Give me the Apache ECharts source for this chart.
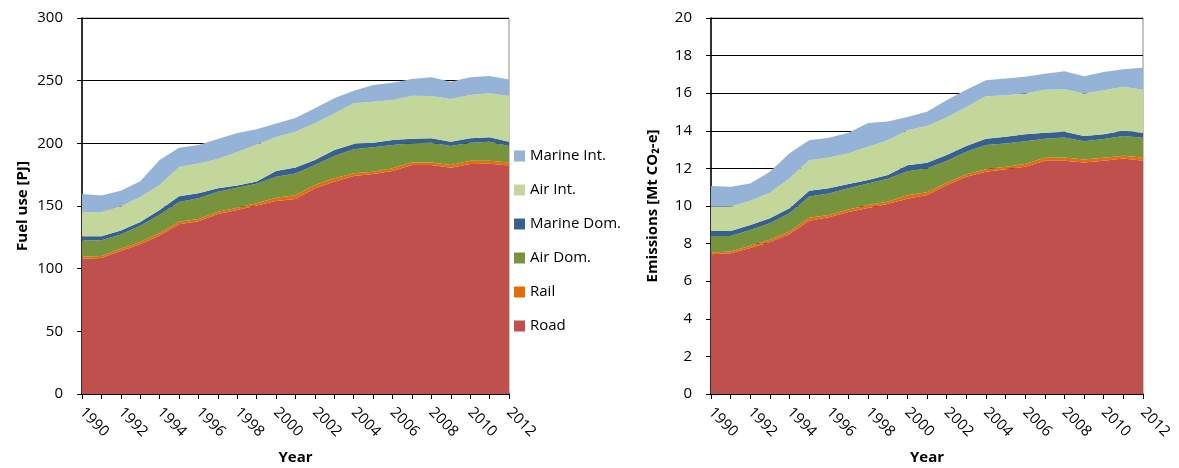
<!DOCTYPE html>
<html>
<head>
<meta charset="utf-8">
<script src="https://cdn.jsdelivr.net/npm/echarts@6/dist/echarts.min.js"></script>
<style>
html,body{margin:0;padding:0;background:#fff;overflow:hidden;}
#c{width:1179px;height:468px;}
</style>
</head>
<body>
<div id="c"></div>
<script>
// ---- Data ----
const years = ['1990','1991','1992','1993','1994','1995','1996','1997','1998','1999','2000','2001','2002','2003','2004','2005','2006','2007','2008','2009','2010','2011','2012'];
const seriesNames = ['Road','Rail','Air Dom.','Marine Dom.','Air Int.','Marine Int.'];
const legendOrder = ['Marine Int.','Air Int.','Marine Dom.','Air Dom.','Rail','Road'];

// Fuel use [PJ]
const roadPJ      = [108,108.5,114,119.5,126.5,135.5,137.8,143.6,146.8,150.3,154,155.6,164.1,169.4,174,175.5,177.9,182.7,182.7,180.6,183.5,183.8,182.4];
const railPJ      = [1.6,1.6,1.8,1.8,2.0,2.0,1.8,1.9,1.9,1.9,2.6,3.0,2.7,2.7,2.1,1.9,2.2,2.1,2.1,2.1,2.7,2.4,2.4];
const airDomPJ    = [12.8,12.5,11.5,13.0,14.5,15.6,16.5,15.9,15.9,15.5,16.8,17.3,15.9,17.8,19.1,19.4,18.6,15.2,15.7,15.2,14.3,15.1,13.1];
const marineDomPJ = [3.4,3.2,3.2,3.0,3.8,4.6,4.0,2.7,1.8,1.8,4.6,4.8,4.0,4.8,4.3,3.7,4.0,3.7,3.5,3.4,3.5,3.5,3.4];
const airIntPJ    = [19.2,19.2,19.2,19.9,20.0,23.4,23.9,23.4,26.6,29.3,27.1,28.6,29.3,29.2,32.4,32.7,31.9,34.3,33.8,34.1,34.6,35.1,36.5];
const marineIntPJ = [14.6,13.3,12.5,12.5,19.9,15.4,14.7,16.0,15.2,12.5,10.7,11.0,11.9,12.0,10.1,13.3,13.8,13.3,14.9,13.8,14.1,13.8,13.2];

// Emissions [Mt CO2-e]
const roadCO2      = [7.43,7.49,7.77,8.09,8.51,9.22,9.40,9.68,9.89,10.10,10.39,10.58,11.11,11.56,11.82,11.95,12.09,12.41,12.41,12.32,12.41,12.53,12.41];
const railCO2      = [0.09,0.09,0.11,0.11,0.13,0.16,0.12,0.14,0.16,0.13,0.18,0.15,0.13,0.12,0.13,0.14,0.14,0.16,0.17,0.16,0.16,0.14,0.17];
const airDomCO2    = [0.89,0.83,0.85,0.88,0.97,1.12,1.15,1.12,1.15,1.22,1.28,1.27,1.15,1.20,1.29,1.24,1.22,1.01,1.07,0.97,0.99,1.05,1.05];
const marineDomCO2 = [0.26,0.26,0.26,0.27,0.27,0.31,0.27,0.23,0.18,0.20,0.32,0.30,0.32,0.31,0.34,0.35,0.36,0.32,0.30,0.27,0.26,0.28,0.26];
const airIntCO2    = [1.29,1.29,1.29,1.36,1.59,1.63,1.64,1.63,1.77,1.85,1.86,1.95,2.00,2.08,2.26,2.21,2.17,2.29,2.26,2.26,2.34,2.34,2.30];
const marineIntCO2 = [1.10,1.07,0.92,1.11,1.33,1.06,1.05,1.10,1.27,1.00,0.70,0.76,0.92,0.92,0.85,0.89,0.89,0.85,0.96,0.92,0.97,0.93,1.17];

const colors = ['#C0504D','#E46C0A','#77933C','#376092','#C4D79B','#95B3D7'];

// ---- Chart ----
const FONT = 'Open Sans';
const fuelData = [roadPJ, railPJ, airDomPJ, marineDomPJ, airIntPJ, marineIntPJ];
const co2Data  = [roadCO2, railCO2, airDomCO2, marineDomCO2, airIntCO2, marineIntCO2];

function makeSeries(dataSets, idx, stack) {
  return dataSets.map((d, k) => ({
    name: seriesNames[k],
    type: 'line',
    stack: stack,
    xAxisIndex: idx,
    yAxisIndex: idx,
    data: d,
    symbol: 'none',
    lineStyle: { width: 0 },
    areaStyle: { color: colors[k], opacity: 1 },
    itemStyle: { color: colors[k] },
    emphasis: { disabled: true },
    animation: false
  }));
}

function xAxisCfg(idx) {
  return {
    type: 'category', gridIndex: idx, data: years, boundaryGap: false,
    name: 'Year', nameLocation: 'middle', nameGap: 56,
    nameTextStyle: { fontFamily: FONT, fontSize: 15, fontWeight: 'bold', color: '#000' },
    axisLine: { lineStyle: { color: '#000', width: 1.5 } },
    axisTick: { show: true, interval: 0, length: 5, lineStyle: { color: '#000' } },
    axisLabel: { interval: 1, rotate: -45, margin: 16, fontFamily: FONT, fontSize: 15, color: '#000' },
    splitLine: { show: false }
  };
}

function yAxisCfg(idx, max, interval, name, gap) {
  return {
    type: 'value', gridIndex: idx, min: 0, max: max, interval: interval,
    name: name, nameLocation: 'middle', nameGap: gap, nameRotate: 90,
    nameTextStyle: { fontFamily: FONT, fontSize: 15, fontWeight: 'bold', color: '#000' },
    axisLine: { show: true, lineStyle: { color: '#000', width: 1.5 } },
    axisTick: { show: true, length: 5, lineStyle: { color: '#000' } },
    axisLabel: { margin: 19, fontFamily: FONT, fontSize: 15, color: '#000' },
    splitLine: { show: true, lineStyle: { color: '#000', width: 1.2 } }
  };
}

const chart = echarts.init(document.getElementById('c'), null, { renderer: 'canvas', width: 1179, height: 468 });
chart.setOption({
  animation: false,
  backgroundColor: '#fff',
  grid: [
    { left: 82, width: 427, top: 18, height: 376, outerBoundsMode: 'none', containLabel: false, show: true, borderColor: '#8c8c8c', borderWidth: 1, backgroundColor: 'transparent' },
    { left: 711, width: 432, top: 18, height: 376, outerBoundsMode: 'none', containLabel: false, show: true, borderColor: '#8c8c8c', borderWidth: 1, backgroundColor: 'transparent' }
  ],
  legend: {
    data: legendOrder,
    orient: 'vertical',
    left: 514, top: 148, padding: 0,
    icon: 'rect', itemWidth: 11, itemHeight: 11, itemGap: 18,
    textStyle: { fontFamily: FONT, fontSize: 15, color: '#000', lineHeight: 16 }
  },
  xAxis: [xAxisCfg(0), xAxisCfg(1)],
  yAxis: [
    yAxisCfg(0, 300, 50, 'Fuel use [PJ]', 52),
    yAxisCfg(1, 20, 2, 'Emissions [Mt CO\u2082-e]', 51)
  ],
  series: makeSeries(fuelData, 0, 'fuel').concat(makeSeries(co2Data, 1, 'co2'))
});
</script>
</body>
</html>
